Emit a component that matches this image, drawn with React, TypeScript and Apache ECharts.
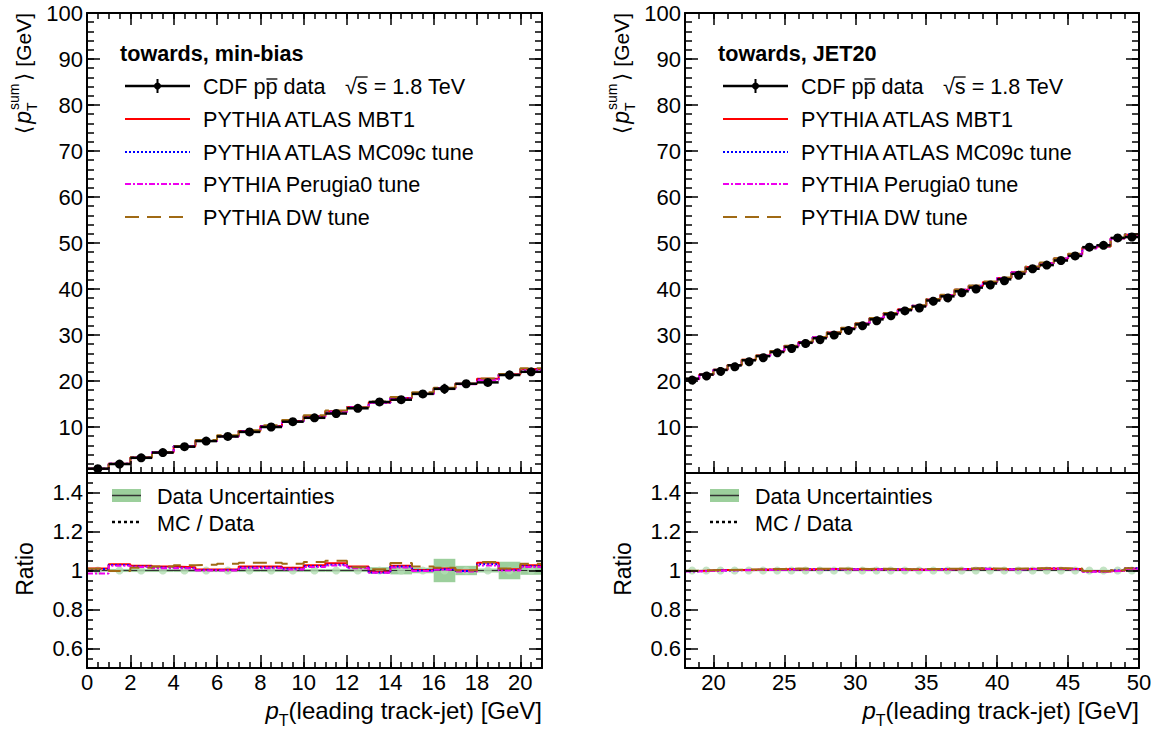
import React, { useEffect, useRef } from 'react';
import * as echarts from 'echarts';

const FONT = '"Liberation Sans", Arial, Helvetica, sans-serif';

// ---------- towards, min-bias ----------
const minBiasEdges = [0, 1, 2, 3, 4, 5, 6, 7, 8, 9, 10, 11, 12, 13, 14, 15, 16, 17, 18, 19, 20, 21];
const minBiasData = [0.94, 1.95, 3.3, 4.43, 5.72, 6.94, 7.94, 8.93, 10.0, 11.15, 12.0, 12.93, 14.07, 15.44, 15.93, 17.2, 18.3, 19.4, 19.7, 21.3, 22.0];
const minBiasRelErr = [0.006, 0.008, 0.008, 0.008, 0.008, 0.008, 0.008, 0.008, 0.008, 0.008, 0.008, 0.008, 0.008, 0.017, 0.02, 0.014, 0.06, 0.024, 0.01, 0.045, 0.022];
const minBiasMBT1 = [1.01, 1.032, 1.024, 1.02, 1.017, 1.005, 1.005, 1.02, 1.02, 1.014, 1.027, 1.037, 1.02, 0.993, 1.024, 1.003, 1.01, 1.0, 1.04, 1.007, 1.027];
const minBiasMC09c = [1.008, 1.028, 1.02, 1.015, 1.012, 1.002, 1.002, 1.016, 1.016, 1.009, 1.022, 1.03, 1.015, 0.99, 1.02, 1.0, 1.006, 0.997, 1.032, 1.003, 1.022];
const minBiasPerugia0 = [0.985, 1.024, 1.018, 1.012, 1.01, 1.0, 1.0, 1.012, 1.012, 1.005, 1.018, 1.026, 1.011, 0.988, 1.016, 0.998, 1.004, 0.995, 1.026, 1.0, 1.018];
const minBiasDW = [1.009, 0.997, 1.014, 1.02, 1.027, 1.03, 1.034, 1.04, 1.04, 1.034, 1.044, 1.05, 1.017, 1.007, 1.038, 1.02, 1.014, 1.0, 1.044, 1.01, 1.034];
const minBiasXTicks = [0, 2, 4, 6, 8, 10, 12, 14, 16, 18, 20];

// ---------- towards, JET20 ----------
const jetEdges = [18, 19, 20, 21, 22, 23, 24, 25, 26, 27, 28, 29, 30, 31, 32, 33, 34, 35, 36, 37, 38, 39, 40, 41, 42, 43, 44, 45, 46, 47, 48, 49, 50];
const jetData = [20.5, 21.4, 22.4, 23.4, 24.5, 25.4, 26.3, 27.4, 28.3, 29.3, 30.3, 31.3, 32.3, 33.4, 34.5, 35.4, 36.2, 37.5, 38.4, 39.5, 40.3, 41.2, 42.1, 43.3, 44.4, 45.2, 46.2, 47.2, 49.1, 49.5, 51.1, 51.3];
const jetRelErr = [0.004, 0.004, 0.004, 0.004, 0.004, 0.004, 0.004, 0.004, 0.004, 0.004, 0.004, 0.004, 0.004, 0.004, 0.004, 0.004, 0.004, 0.004, 0.004, 0.004, 0.004, 0.004, 0.004, 0.004, 0.004, 0.004, 0.004, 0.004, 0.004, 0.004, 0.004, 0.004];
const jetMBT1 = [0.997, 1.0, 1.002, 1.003, 1.004, 1.005, 1.006, 1.007, 1.007, 1.008, 1.008, 1.007, 1.006, 1.007, 1.006, 1.005, 1.005, 1.006, 1.007, 1.008, 1.009, 1.008, 1.007, 1.008, 1.009, 1.01, 1.009, 1.008, 0.996, 0.995, 0.999, 1.01];
const jetMC09c = [0.996, 0.999, 1.0, 1.002, 1.003, 1.004, 1.005, 1.006, 1.006, 1.007, 1.007, 1.006, 1.005, 1.006, 1.005, 1.004, 1.004, 1.006, 1.007, 1.008, 1.01, 1.008, 1.006, 1.007, 1.009, 1.01, 1.008, 1.007, 0.995, 0.996, 1.0, 1.012];
const jetPerugia0 = [0.995, 0.998, 1.0, 1.001, 1.002, 1.003, 1.004, 1.005, 1.005, 1.006, 1.006, 1.005, 1.004, 1.005, 1.004, 1.003, 1.003, 1.004, 1.006, 1.007, 1.008, 1.007, 1.005, 1.006, 1.008, 1.009, 1.007, 1.006, 0.994, 0.995, 0.998, 1.008];
const jetDW = [0.999, 1.001, 1.003, 1.004, 1.005, 1.006, 1.008, 1.01, 1.009, 1.009, 1.01, 1.009, 1.008, 1.009, 1.008, 1.007, 1.007, 1.008, 1.009, 1.01, 1.011, 1.01, 1.009, 1.01, 1.011, 1.012, 1.011, 1.01, 0.997, 0.996, 1.001, 1.012];
const jetXTicks = [20, 25, 30, 35, 40, 45, 50];

// shared axes
const mainYLabels = [10, 20, 30, 40, 50, 60, 70, 80, 90, 100];
const ratioYTicks = [0.6, 0.8, 1, 1.2, 1.4];

const legendEntries = [
  { name: 'PYTHIA ATLAS MBT1', color: '#ff0000', dash: 'solid' as any },
  { name: 'PYTHIA ATLAS MC09c tune', color: '#0000ff', dash: [2, 2] as any },
  { name: 'PYTHIA Perugia0 tune', color: '#ee00ee', dash: [6, 2, 2, 2] as any },
  { name: 'PYTHIA DW tune', color: '#a06a14', dash: [14, 8] as any },
];
const GREEN = '#9ccf9c';

const LAYOUT = {
  left: [87, 685],
  width: [455, 454],
  mainTop: 13,
  mainH: 460,
  ratioH: 195,
};

export default function App() {
  const ref = useRef<HTMLDivElement>(null);
  useEffect(() => {
    document.body.style.margin = '0';
    const chart = echarts.init(ref.current!, null, { renderer: 'svg' });
    const ctx = document.createElement('canvas').getContext('2d')!;
    const tw = (t: string, f: string) => { ctx.font = f; return ctx.measureText(t).width; };

    const grids: any[] = [];
    const xAxes: any[] = [];
    const yAxes: any[] = [];
    const series: any[] = [];
    const graphics: any[] = [];

    const mkAxis = (o: any) => {
      const a: any = {
        type: 'value', gridIndex: o.grid, position: o.pos, min: o.min, max: o.max,
        axisLine: { show: !!o.line, onZero: false, lineStyle: { color: '#000', width: 2 } },
        axisTick: { show: o.len > 0, inside: true, length: o.len, lineStyle: { color: '#000', width: 1.5 } },
        axisLabel: { show: !!o.labels, color: '#000', fontFamily: FONT, fontSize: 22, margin: o.margin ?? 4 },
        splitLine: { show: false },
        z: 20,
      };
      if (o.ticks) a.axisTick.customValues = o.ticks;
      if (o.interval) a.interval = o.interval;
      if (o.labels) a.axisLabel.customValues = o.labels;
      return a;
    };

    const stepData = (edges: number[], vals: number[]) => {
      const d: number[][] = vals.map((v, i) => [edges[i], v]);
      d.push([edges[edges.length - 1], vals[vals.length - 1]]);
      return d;
    };

    const panels = [
      { edges: minBiasEdges, data: minBiasData, err: minBiasRelErr, mcs: [minBiasMBT1, minBiasMC09c, minBiasPerugia0, minBiasDW], xTicks: minBiasXTicks, minor: 0.5, title: 'towards, min-bias' },
      { edges: jetEdges, data: jetData, err: jetRelErr, mcs: [jetMBT1, jetMC09c, jetPerugia0, jetDW], xTicks: jetXTicks, minor: 1, title: 'towards, JET20' },
    ];

    panels.forEach((p, pi) => {
      const L = LAYOUT.left[pi], W = LAYOUT.width[pi];
      const xmin = p.edges[0], xmax = p.edges[p.edges.length - 1];
      const gMain = grids.length;
      grids.push({ left: L, top: LAYOUT.mainTop, width: W, height: LAYOUT.mainH, outerBoundsMode: 'none', containLabel: false });
      const gRatio = grids.length;
      grids.push({ left: L, top: LAYOUT.mainTop + LAYOUT.mainH, width: W, height: LAYOUT.ratioH, outerBoundsMode: 'none', containLabel: false });

      // main panel axes
      const xMainIdx = xAxes.length;
      xAxes.push(mkAxis({ grid: gMain, pos: 'bottom', min: xmin, max: xmax, ticks: p.xTicks, len: 12, line: true }));
      xAxes.push(mkAxis({ grid: gMain, pos: 'bottom', min: xmin, max: xmax, interval: p.minor, len: 6 }));
      xAxes.push(mkAxis({ grid: gMain, pos: 'top', min: xmin, max: xmax, ticks: p.xTicks, len: 12, line: true }));
      xAxes.push(mkAxis({ grid: gMain, pos: 'top', min: xmin, max: xmax, interval: p.minor, len: 6 }));
      const yMainIdx = yAxes.length;
      yAxes.push(mkAxis({ grid: gMain, pos: 'left', min: 0, max: 100, interval: 10, len: 13, line: true, labels: mainYLabels }));
      yAxes.push(mkAxis({ grid: gMain, pos: 'left', min: 0, max: 100, interval: 2, len: 7 }));
      yAxes.push(mkAxis({ grid: gMain, pos: 'right', min: 0, max: 100, interval: 10, len: 13, line: true }));
      yAxes.push(mkAxis({ grid: gMain, pos: 'right', min: 0, max: 100, interval: 2, len: 7 }));

      // ratio panel axes
      const xRatioIdx = xAxes.length;
      xAxes.push(mkAxis({ grid: gRatio, pos: 'bottom', min: xmin, max: xmax, ticks: p.xTicks, len: 13, line: true, labels: p.xTicks, margin: 3 }));
      xAxes.push(mkAxis({ grid: gRatio, pos: 'bottom', min: xmin, max: xmax, interval: p.minor, len: 6 }));
      xAxes.push(mkAxis({ grid: gRatio, pos: 'top', min: xmin, max: xmax, len: 0, line: true }));
      const yRatioIdx = yAxes.length;
      yAxes.push(mkAxis({ grid: gRatio, pos: 'left', min: 0.5, max: 1.5, ticks: ratioYTicks, len: 13, line: true, labels: ratioYTicks }));
      yAxes.push(mkAxis({ grid: gRatio, pos: 'left', min: 0.5, max: 1.5, interval: 0.05, len: 6 }));
      yAxes.push(mkAxis({ grid: gRatio, pos: 'right', min: 0.5, max: 1.5, ticks: ratioYTicks, len: 13, line: true }));
      yAxes.push(mkAxis({ grid: gRatio, pos: 'right', min: 0.5, max: 1.5, interval: 0.05, len: 6 }));

      // ---- main panel series ----
      p.mcs.forEach((r, k) => {
        series.push({
          type: 'line', step: 'end', xAxisIndex: xMainIdx, yAxisIndex: yMainIdx,
          data: stepData(p.edges, p.data.map((v, i) => v * r[i])),
          showSymbol: false, symbol: 'none', silent: true, z: 3 + k,
          lineStyle: { color: legendEntries[k].color, width: 2, type: legendEntries[k].dash },
        });
      });
      series.push({
        type: 'custom', xAxisIndex: xMainIdx, yAxisIndex: yMainIdx, z: 10, silent: true,
        data: p.data.map((v, i) => [p.edges[i], p.edges[i + 1], v, v * p.err[i]]),
        encode: { x: [0, 1], y: 2 },
        renderItem: (_params: any, api: any) => {
          const x0 = api.value(0), x1 = api.value(1), y = api.value(2), e = api.value(3);
          const xc = (x0 + x1) / 2;
          const pL = api.coord([x0, y]), pR = api.coord([x1, y]), pC = api.coord([xc, y]);
          const pT = api.coord([xc, y + e]), pB = api.coord([xc, y - e]);
          return {
            type: 'group', children: [
              { type: 'line', shape: { x1: pL[0], y1: pL[1], x2: pR[0], y2: pR[1] }, style: { stroke: '#000', lineWidth: 2.5 } },
              { type: 'line', shape: { x1: pT[0], y1: pT[1], x2: pB[0], y2: pB[1] }, style: { stroke: '#000', lineWidth: 2 } },
              { type: 'circle', shape: { cx: pC[0], cy: pC[1], r: 4.5 }, style: { fill: '#000' } },
            ],
          };
        },
      });

      // ---- ratio panel series ----
      series.push({
        type: 'custom', xAxisIndex: xRatioIdx, yAxisIndex: yRatioIdx, z: 1, silent: true,
        data: p.err.map((e, i) => [p.edges[i], p.edges[i + 1], 1 - e, 1 + e]),
        encode: { x: [0, 1], y: [2, 3] },
        renderItem: (_params: any, api: any) => {
          const a = api.coord([api.value(0), api.value(3)]);
          const b = api.coord([api.value(1), api.value(2)]);
          return { type: 'rect', shape: { x: a[0], y: a[1], width: b[0] - a[0], height: b[1] - a[1] }, style: { fill: GREEN } };
        },
      });
      series.push({
        type: 'scatter', xAxisIndex: xRatioIdx, yAxisIndex: yRatioIdx, z: 2, silent: true,
        data: p.data.map((_v, i) => [(p.edges[i] + p.edges[i + 1]) / 2, 1]),
        symbol: 'circle', symbolSize: 8, itemStyle: { color: '#b4dcb4' },
      });
      series.push({
        type: 'line', xAxisIndex: xRatioIdx, yAxisIndex: yRatioIdx, z: 2, silent: true,
        data: [[xmin, 1], [xmax, 1]], showSymbol: false, symbol: 'none',
        lineStyle: { color: '#333', width: 1 },
      });
      p.mcs.forEach((r, k) => {
        series.push({
          type: 'line', step: 'end', xAxisIndex: xRatioIdx, yAxisIndex: yRatioIdx,
          data: stepData(p.edges, r),
          showSymbol: false, symbol: 'none', silent: true, z: 3 + k,
          lineStyle: { color: legendEntries[k].color, width: 2, type: legendEntries[k].dash },
        });
      });

      // ---- graphics: legends and titles ----
      const ox = L - 87;
      const LF = `21.6px ${FONT}`;
      graphics.push({ type: 'text', x: 120 + ox, y: 53, style: { text: p.title, font: `bold 21.6px ${FONT}`, fill: '#000', align: 'left', verticalAlign: 'middle' } });
      // data legend row
      const r0 = 86;
      graphics.push({ type: 'line', shape: { x1: 125 + ox, y1: r0, x2: 190 + ox, y2: r0 }, style: { stroke: '#000', lineWidth: 2.5 } });
      graphics.push({ type: 'line', shape: { x1: 157.5 + ox, y1: r0 - 7, x2: 157.5 + ox, y2: r0 + 7 }, style: { stroke: '#000', lineWidth: 2 } });
      graphics.push({ type: 'circle', shape: { cx: 157.5 + ox, cy: r0, r: 3.5 }, style: { fill: '#000' } });
      let cx = 203 + ox;
      const t1 = 'CDF p';
      graphics.push({ type: 'text', x: cx, y: r0, style: { text: t1, font: LF, fill: '#000', align: 'left', verticalAlign: 'middle' } });
      cx += tw(t1, LF);
      const wp = tw('p', LF);
      graphics.push({ type: 'text', x: cx, y: r0, style: { text: 'p', font: LF, fill: '#000', align: 'left', verticalAlign: 'middle' } });
      graphics.push({ type: 'line', shape: { x1: cx + 1, y1: r0 - 7, x2: cx + wp, y2: r0 - 7 }, style: { stroke: '#000', lineWidth: 1.3 } });
      cx += wp;
      graphics.push({ type: 'text', x: cx, y: r0, style: { text: ' data', font: LF, fill: '#000', align: 'left', verticalAlign: 'middle' } });
      let sx = 345 + ox;
      const wsq = tw('\u221A', LF);
      graphics.push({ type: 'text', x: sx, y: r0, style: { text: '\u221A', font: LF, fill: '#000', align: 'left', verticalAlign: 'middle' } });
      sx += wsq;
      const ws = tw('s', LF);
      graphics.push({ type: 'text', x: sx, y: r0, style: { text: 's', font: LF, fill: '#000', align: 'left', verticalAlign: 'middle' } });
      graphics.push({ type: 'line', shape: { x1: sx - 1, y1: r0 - 9, x2: sx + ws, y2: r0 - 9 }, style: { stroke: '#000', lineWidth: 1.3 } });
      sx += ws;
      graphics.push({ type: 'text', x: sx, y: r0, style: { text: ' = 1.8 TeV', font: LF, fill: '#000', align: 'left', verticalAlign: 'middle' } });
      const rows = [119, 152, 184, 217];
      legendEntries.forEach((e, k) => {
        graphics.push({ type: 'line', shape: { x1: 125 + ox, y1: rows[k], x2: 190 + ox, y2: rows[k] }, style: { stroke: e.color, lineWidth: 2, lineDash: e.dash === 'solid' ? null : e.dash } });
        graphics.push({ type: 'text', x: 203 + ox, y: rows[k], style: { text: e.name, font: LF, fill: '#000', align: 'left', verticalAlign: 'middle' } });
      });
      // ratio legend
      graphics.push({ type: 'rect', shape: { x: 112 + ox, y: 489, width: 29, height: 13 }, style: { fill: GREEN } });
      graphics.push({ type: 'line', shape: { x1: 112 + ox, y1: 495.5, x2: 141 + ox, y2: 495.5 }, style: { stroke: '#333', lineWidth: 1.5 } });
      graphics.push({ type: 'text', x: 157 + ox, y: 496, style: { text: 'Data Uncertainties', font: LF, fill: '#000', align: 'left', verticalAlign: 'middle' } });
      graphics.push({ type: 'line', shape: { x1: 112 + ox, y1: 522, x2: 141 + ox, y2: 522 }, style: { stroke: '#000', lineWidth: 2.5, lineDash: [3, 3] } });
      graphics.push({ type: 'text', x: 157 + ox, y: 523, style: { text: 'MC / Data', font: LF, fill: '#000', align: 'left', verticalAlign: 'middle' } });

      // y title (main)
      const S = 21;
      const F = `${S}px ${FONT}`, FI = `italic 23px ${FONT}`, FS = `${Math.round(S * 0.66)}px ${FONT}`;
      const wl = tw('\u27E8', F), wpi = tw('p', FI), wsum = tw('sum', FS), wr = tw('\u27E9 [GeV]', F);
      const xpp = wl + 2;
      const xs = xpp + wpi + 1;
      const xr = xs + wsum + 3;
      const total = xr + wr;
      graphics.push({
        type: 'group', x: 23 + ox, y: 13 + total, rotation: Math.PI / 2,
        children: [
          { type: 'text', x: 0, y: 0, style: { text: '\u27E8', font: F, fill: '#000', align: 'left', verticalAlign: 'middle' } },
          { type: 'text', x: xpp, y: 0, style: { text: 'p', font: FI, fill: '#000', align: 'left', verticalAlign: 'middle' } },
          { type: 'text', x: xs, y: -9, style: { text: 'sum', font: FS, fill: '#000', align: 'left', verticalAlign: 'middle' } },
          { type: 'text', x: xs - 1, y: 9, style: { text: 'T', font: FS, fill: '#000', align: 'left', verticalAlign: 'middle' } },
          { type: 'text', x: xr, y: 0, style: { text: '\u27E9 [GeV]', font: F, fill: '#000', align: 'left', verticalAlign: 'middle' } },
        ],
      });
      // ratio y title
      graphics.push({
        type: 'group', x: 25 + ox, y: 569, rotation: Math.PI / 2,
        children: [{ type: 'text', x: 0, y: 0, style: { text: 'Ratio', font: `23px ${FONT}`, fill: '#000', align: 'center', verticalAlign: 'middle' } }],
      });
      // x title
      const XF = `24px ${FONT}`, XFI = `italic 24px ${FONT}`, XFS = `16px ${FONT}`;
      const rest = '(leading track-jet) [GeV]';
      const wRest = tw(rest, XF), wTx = tw('T', XFS), wpx = tw('p', XFI);
      const right = L + W;
      const xRest = right - wRest;
      const xT = xRest - wTx;
      const xP = xT - wpx;
      const ty = 710;
      graphics.push({ type: 'text', x: xRest, y: ty, style: { text: rest, font: XF, fill: '#000', align: 'left', verticalAlign: 'middle' } });
      graphics.push({ type: 'text', x: xT, y: ty + 10, style: { text: 'T', font: XFS, fill: '#000', align: 'left', verticalAlign: 'middle' } });
      graphics.push({ type: 'text', x: xP, y: ty, style: { text: 'p', font: XFI, fill: '#000', align: 'left', verticalAlign: 'middle' } });
    });

    chart.setOption({
      animation: false,
      backgroundColor: '#fff',
      textStyle: { fontFamily: FONT },
      grid: grids,
      xAxis: xAxes,
      yAxis: yAxes,
      series,
      graphic: { elements: graphics },
    });
    return () => chart.dispose();
  }, []);
  return <div ref={ref} style={{ position: 'fixed', left: 0, top: 0, width: 1157, height: 731, background: '#fff' }} />;
}
